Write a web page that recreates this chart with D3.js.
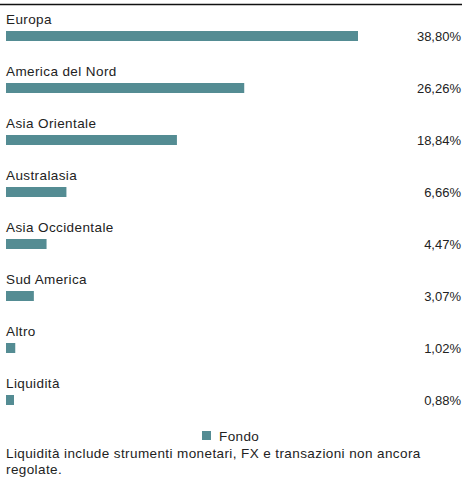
<!DOCTYPE html>
<html>
<head>
<meta charset="utf-8">
<script src="https://cdn.jsdelivr.net/npm/d3@7"></script>
<style>
  body { margin: 0; background: #fff; }
  text { font-family: "Liberation Sans", Arial, sans-serif; fill: #222; }
</style>
</head>
<body>
<svg id="chart"></svg>
<script>
var regions = ["Europa", "America del Nord", "Asia Orientale", "Australasia", "Asia Occidentale", "Sud America", "Altro", "Liquidità"];
var fondo = [38.80, 26.26, 18.84, 6.66, 4.47, 3.07, 1.02, 0.88];
var seriesName = "Fondo";
var footnote = ["Liquidità include strumenti monetari, FX e transazioni non ancora", "regolate."];

var width = 464, height = 477;
var barColor = "#548c93";

var svg = d3.select("#chart")
    .attr("width", width)
    .attr("height", height);

svg.append("line")
    .attr("x1", 0).attr("x2", width - 2)
    .attr("y1", 4.5).attr("y2", 4.5)
    .attr("stroke", "#111")
    .attr("stroke-width", 1.5);

var x = d3.scaleLinear()
    .domain([0, d3.max(fondo)])
    .range([0, 352]);

var y = d3.scaleBand()
    .domain(regions)
    .range([10, 426])
    .paddingInner(0);

var rows = svg.append("g")
  .selectAll("g")
  .data(regions)
  .enter().append("g")
    .attr("transform", d => `translate(0, ${y(d)})`);

rows.append("text")
    .attr("x", 6)
    .attr("y", 13.5)
    .attr("font-size", 13.5)
    .attr("letter-spacing", 0.4)
    .text(d => d);

rows.append("rect")
    .attr("x", 6)
    .attr("y", 21)
    .attr("height", 10)
    .attr("width", (d, i) => Math.max(8, x(fondo[i])))
    .attr("fill", barColor);

rows.append("text")
    .attr("x", 461)
    .attr("y", 31)
    .attr("text-anchor", "end")
    .attr("font-size", 13)
    .text((d, i) => d3.format(".2f")(fondo[i]).replace(".", ",") + "%");

// legend
var legend = svg.append("g").attr("transform", "translate(202, 431)");
legend.append("rect")
    .attr("width", 9).attr("height", 9)
    .attr("fill", barColor);
legend.append("text")
    .attr("x", 17).attr("y", 9.5)
    .attr("font-size", 13.5)
    .attr("letter-spacing", 0.4)
    .text(seriesName);

svg.append("g")
  .selectAll("text")
  .data(footnote)
  .enter().append("text")
    .attr("x", 6)
    .attr("y", (d, i) => 457.5 + i * 16)
    .attr("font-size", 13.5)
    .attr("letter-spacing", 0.4)
    .text(d => d);
</script>
</body>
</html>
